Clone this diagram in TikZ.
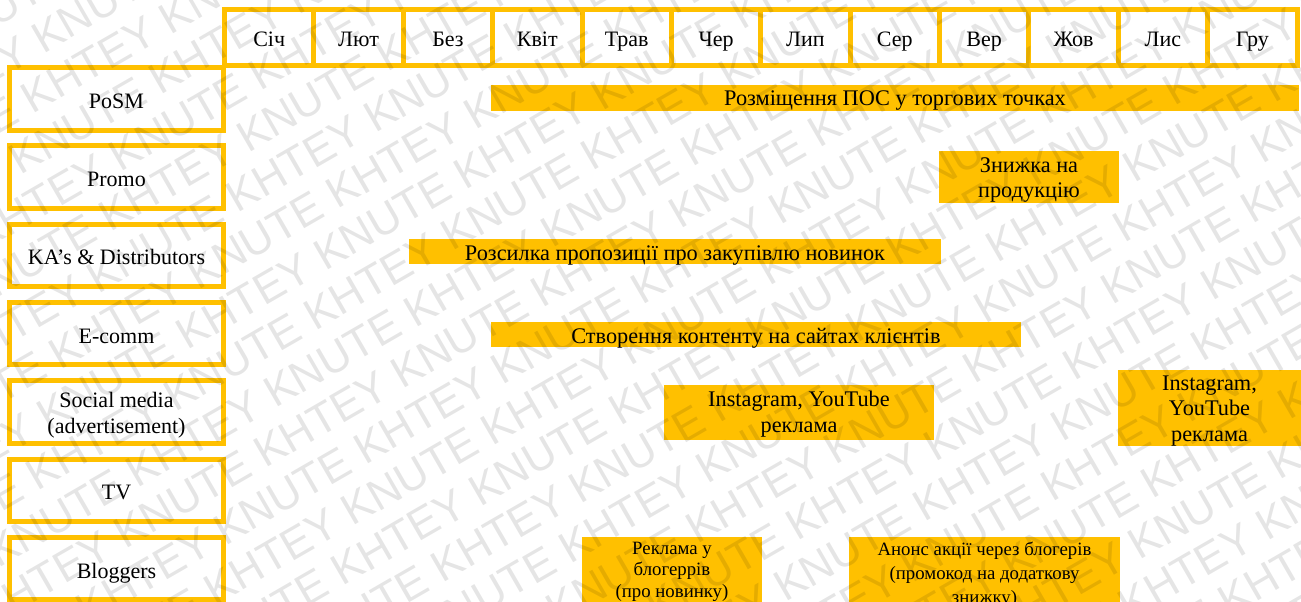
\documentclass[tikz,border=0pt]{standalone}
\usepackage{fontspec}
\setmainfont{Liberation Serif}
\newfontfamily\wmfont{Liberation Sans}
\definecolor{gold}{HTML}{FFC000}
\begin{document}
\begin{tikzpicture}[x=1pt,y=-1pt,
  frame/.style={draw=gold, line width=5pt, inner sep=0pt, outer sep=0pt},
  lbl/.style={font=\fontsize{22}{25.5}\selectfont, align=center, text=black},
  one/.style={text height=20pt, text depth=1pt},
  bar/.style={fill=gold, draw=none, inner sep=0pt, outer sep=0pt},
  btxt/.style={font=\fontsize{22.3}{25.5}\selectfont, align=center, inner sep=0pt, text=black},
  stxt/.style={font=\fontsize{18.8}{21.5}\selectfont, align=center, inner sep=0pt, text=black},
  wm/.style={font=\wmfont\fontsize{44}{44}\selectfont, text=black, text opacity=0.1, inner sep=0pt}]
\useasboundingbox (0,0) rectangle (1301,602);
\fill[white] (0,0) rectangle (1301,602);

% month header
\foreach \m [count=\k] in {Січ,Лют,Без,Квіт,Трав,Чер,Лип,Сер,Вер,Жов,Лис,Гру} {
  \pgfmathsetmacro{\cx}{224.5+(\k-0.5)*89.375}
  \node[frame, lbl, one, minimum width=89.375pt, minimum height=56pt] (m\k) at (\cx,37.5) {\m};
}

% row labels
\foreach \t [count=\i] in {PoSM,Promo,KA’s \& Distributors,E-comm,TV,Bloggers} {
  \pgfmathsetmacro{\ri}{\i>4 ? \i+1 : \i}
  \pgfmathsetmacro{\cy}{98.75+(\ri-1)*78.33}
  \node[frame, lbl, one, minimum width=214pt, minimum height=62.5pt] (r\i) at (116.5,\cy) {\t};
}
\node[frame, minimum width=214pt, minimum height=62.5pt] (rsm) at (116.5,412.1) {};
\node[lbl, inner sep=0pt, yshift=-3pt] (rsmt) at (rsm.center) {Social media\\(advertisement)};

% bars
\node[bar, minimum width=808pt, minimum height=26pt] (posm) at (895,98) {};
\node[btxt, text height=17pt, text depth=3pt] (posmt) at (posm.center) {Розміщення ПОС у торгових точках};

\node[bar, minimum width=180pt, minimum height=52pt] (promo) at (1029,177) {};
\node[btxt, yshift=-3pt] (promot) at (promo.center) {Знижка на\\продукцію};

\node[bar, minimum width=532pt, minimum height=25pt] (ka) at (675,251.5) {};
\node[btxt, text height=20pt, text depth=3pt] (kat) at (ka.center) {Розсилка пропозиції про закупівлю новинок};

\node[bar, minimum width=530pt, minimum height=25pt] (ecomm) at (756,334.5) {};
\node[btxt, text height=20pt, text depth=3pt] (ecommt) at (ecomm.center) {Створення контенту на сайтах клієнтів};

\node[bar, minimum width=270pt, minimum height=55pt] (sm1) at (799,412.5) {};
\node[btxt, yshift=-1.5pt] (sm1t) at (sm1.center) {Instagram, YouTube\\реклама};

\node[bar, minimum width=183pt, minimum height=76pt] (sm2) at (1209.5,408) {};
\node[btxt, yshift=-3pt] (sm2t) at (sm2.center) {Instagram,\\YouTube\\реклама};

\node[bar, minimum width=180pt, minimum height=80pt] (bl1) at (672,577) {};
\node[stxt, anchor=north] (bl1t) at (672,541.5) {Реклама у\\блогеррів\\(про новинку)};

\node[bar, minimum width=271pt, minimum height=80pt] (bl2) at (984.5,577) {};
\node[stxt, anchor=north, font=\fontsize{18.8}{24}\selectfont] (bl2t) at (984.5,541.5) {Анонс акції через блогерів\\(промокод на додаткову\\знижку)};

% watermark
\begin{scope}
\clip (0,0) rectangle (1301,602);
\begin{scope}[shift={(650,301)}, rotate=30, transform shape]
\foreach \r in {-16,...,16} {
  \pgfmathsetmacro{\ox}{Mod(\r*120,352)-176}
  \node[wm, anchor=base] (w\r) at (\ox,\r*47) {KNUTE KHTEY KNUTE KHTEY KNUTE KHTEY KNUTE KHTEY KNUTE KHTEY KNUTE KHTEY};
}
\end{scope}
\end{scope}
\end{tikzpicture}
\end{document}
